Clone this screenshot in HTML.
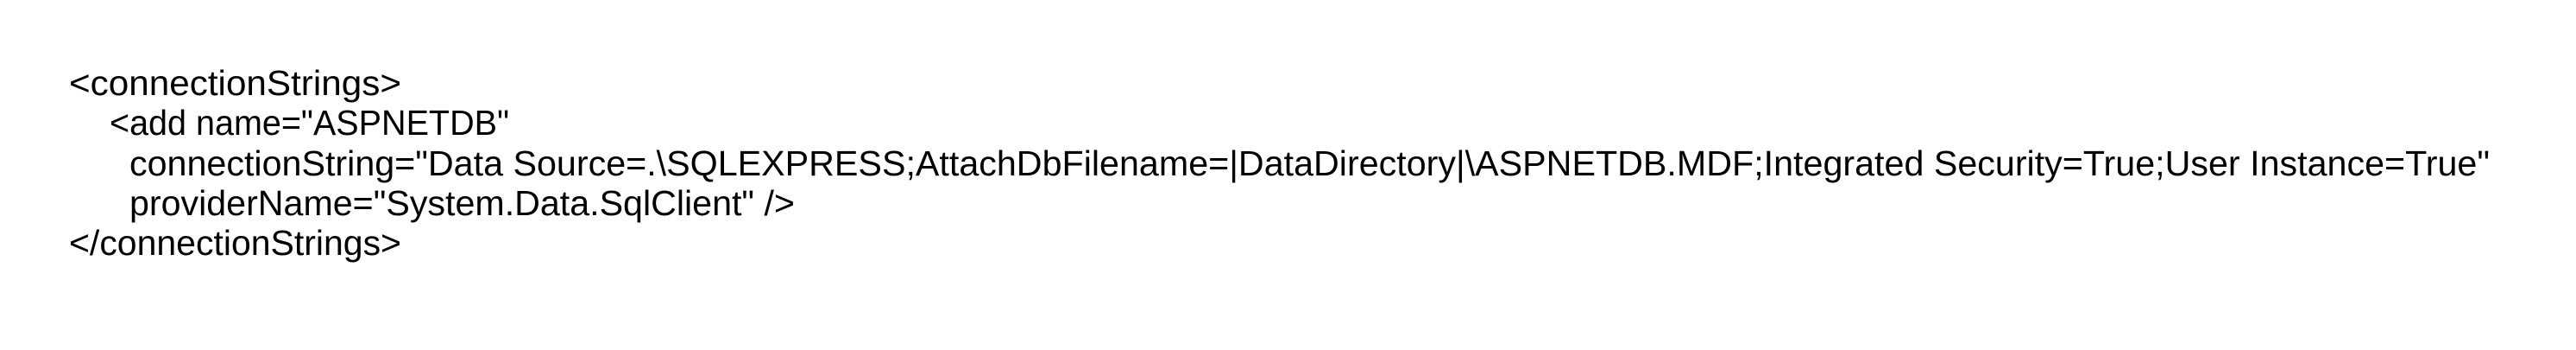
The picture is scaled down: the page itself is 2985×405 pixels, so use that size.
<!DOCTYPE html>
<html><head><meta charset="utf-8"><style>
html,body{margin:0;padding:0;background:#fff;width:2985px;height:405px;overflow:hidden}
svg{display:block}
text{font-family:"Liberation Sans",Arial,sans-serif;font-size:41px;fill:#000}
</style></head><body>
<svg width="2985" height="405" xmlns="http://www.w3.org/2000/svg">
<text x="80" y="110" textLength="385" lengthAdjust="spacingAndGlyphs" xml:space="preserve">&lt;connectionStrings&gt;</text>
<text x="127" y="156" textLength="463" lengthAdjust="spacingAndGlyphs" xml:space="preserve">&lt;add name="ASPNETDB"</text>
<text x="150" y="203" textLength="2735" lengthAdjust="spacingAndGlyphs" xml:space="preserve">connectionString="Data Source=.\SQLEXPRESS;AttachDbFilename=|DataDirectory|\ASPNETDB.MDF;Integrated Security=True;User Instance=True"</text>
<text x="150" y="249" textLength="771" lengthAdjust="spacingAndGlyphs" xml:space="preserve">providerName="System.Data.SqlClient" /&gt;</text>
<text x="80" y="295" textLength="385" lengthAdjust="spacingAndGlyphs" xml:space="preserve">&lt;/connectionStrings&gt;</text>
</svg>
</body></html>
